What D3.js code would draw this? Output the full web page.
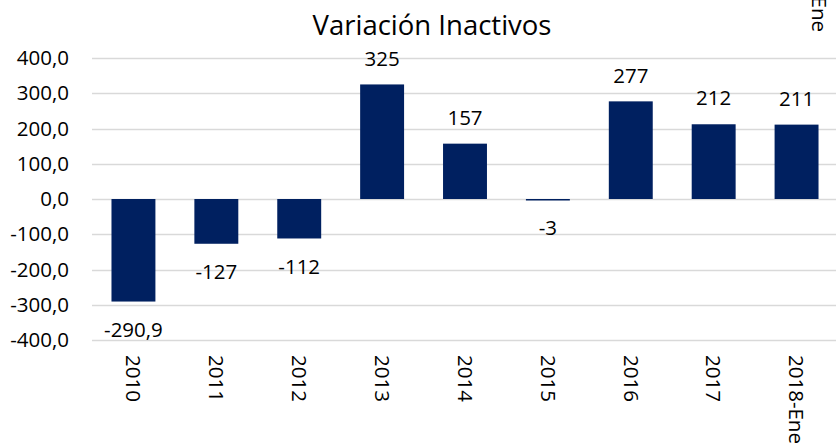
<!DOCTYPE html>
<html>
<head>
<meta charset="utf-8">
<script src="https://cdn.jsdelivr.net/npm/d3@7"></script>
<style>
  body { margin: 0; background: #fff; }
  text { font-family: 'Open Sans', sans-serif; fill: #000; }
</style>
</head>
<body>
<div id="chart"></div>
<script>
const categories = ['2010', '2011', '2012', '2013', '2014', '2015', '2016', '2017', '2018-Ene'];
const values = [-290.9, -127, -112, 325, 157, -3, 277, 212, 211];
const yTicks = [400, 300, 200, 100, 0, -100, -200, -300, -400];
const title = 'Variación Inactivos';

const width = 836;
const height = 445;

const fmtTick = (v) => v.toFixed(1).replace('.', ',');
const fmtLabel = (v) => Number.isInteger(v) ? String(v) : v.toFixed(1).replace('.', ',');

const x = d3.scaleBand()
  .domain(categories)
  .range([92, 838])
  .paddingInner(0.47)
  .paddingOuter(0.235);

const y = d3.scaleLinear()
  .domain([-400, 400])
  .range([340, 58]);

const svg = d3.select('#chart').append('svg')
  .attr('width', width)
  .attr('height', height);

// gridlines
svg.append('g')
  .selectAll('line')
  .data(yTicks)
  .enter().append('line')
  .attr('x1', 92)
  .attr('x2', width)
  .attr('y1', (d) => Math.round(y(d)) + 0.5)
  .attr('y2', (d) => Math.round(y(d)) + 0.5)
  .attr('stroke', '#d9d9d9')
  .attr('stroke-width', 1.3);

// y labels
svg.append('g')
  .selectAll('text')
  .data(yTicks)
  .enter().append('text')
  .attr('x', 69)
  .attr('y', (d) => y(d))
  .attr('dy', '0.35em')
  .attr('text-anchor', 'end')
  .style('font-size', '20.5px')
  .text(fmtTick);

// bars
svg.append('g')
  .selectAll('rect')
  .data(values)
  .enter().append('rect')
  .attr('x', (d, i) => x(categories[i]))
  .attr('width', x.bandwidth())
  .attr('y', (d) => y(Math.max(0, d)))
  .attr('height', (d) => Math.max(1.5, Math.abs(y(d) - y(0))))
  .attr('fill', '#002060');

// value labels
svg.append('g')
  .selectAll('text')
  .data(values)
  .enter().append('text')
  .attr('x', (d, i) => x(categories[i]) + x.bandwidth() / 2)
  .attr('y', (d) => d >= 0 ? y(d) - 26 : y(d) + 28)
  .attr('dy', '0.35em')
  .attr('text-anchor', 'middle')
  .style('font-size', '20.5px')
  .text(fmtLabel);

// category labels, rotated
svg.append('g')
  .selectAll('text')
  .data(categories)
  .enter().append('text')
  .attr('transform', (d) => `translate(${x(d) + x.bandwidth() / 2},355) rotate(90)`)
  .attr('dy', '0.35em')
  .attr('text-anchor', 'start')
  .style('font-size', '20.5px')
  .text((d) => d);

// leftover label fragment at top right
const last = categories[categories.length - 1];
svg.append('text')
  .attr('transform', 'translate(819,32) rotate(90)')
  .attr('dy', '0.35em')
  .attr('text-anchor', 'end')
  .style('font-size', '20.5px')
  .text(last.slice(last.indexOf('-') + 1));

// title
svg.append('text')
  .attr('x', 432)
  .attr('y', 25)
  .attr('dy', '0.35em')
  .attr('text-anchor', 'middle')
  .style('font-size', '27.5px')
  .text(title);
</script>
</body>
</html>
